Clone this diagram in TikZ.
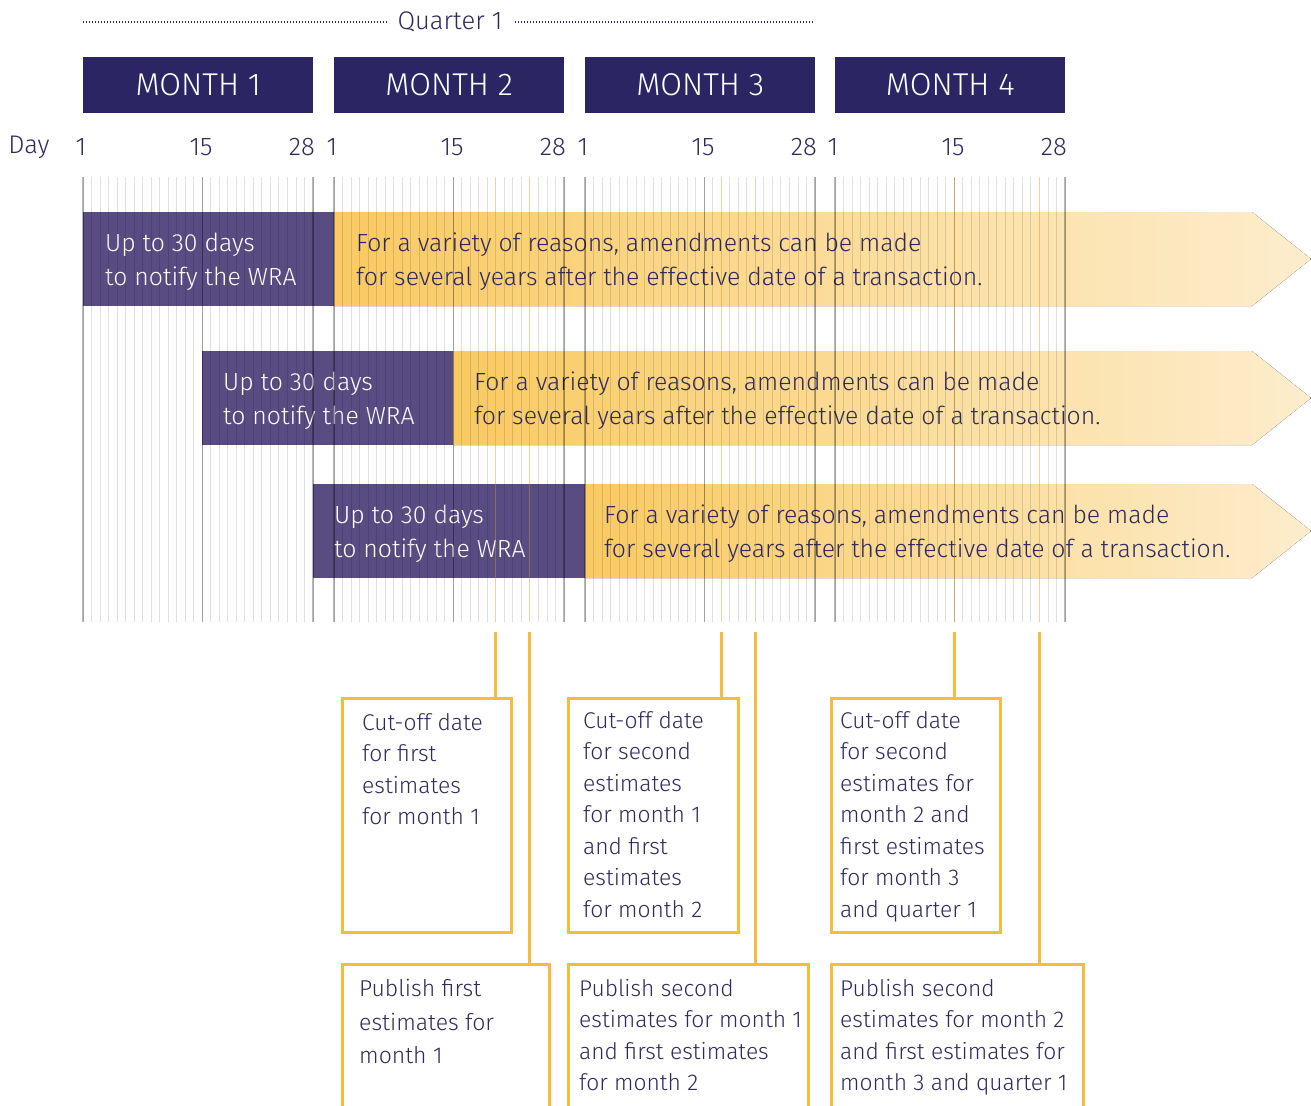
\documentclass[tikz,border=0pt]{standalone}
\usepackage{fontspec}
\setmainfont{Fira Sans Light}
\usetikzlibrary{calc}
\definecolor{navy}{RGB}{43,37,100}
\definecolor{plum}{RGB}{88,76,130}
\definecolor{ink}{RGB}{46,42,92}
\definecolor{gold}{RGB}{246,188,58}
\definecolor{ambL}{RGB}{249,202,98}
\definecolor{ambM}{RGB}{251,220,150}
\definecolor{ambR}{RGB}{253,237,205}
\begin{document}
\begin{tikzpicture}[x=1pt,y=-1pt,
  monthbox/.style={fill=navy,text=white,anchor=north west,minimum width=230pt,
    minimum height=56pt,inner sep=0pt,font=\fontsize{31.5}{36}\selectfont},
  daylbl/.style={text=ink,inner sep=0pt,font=\fontsize{25.5}{28}\selectfont},
  dotline/.style={navy,line width=1.4pt,dash pattern=on 1pt off 2pt},
  plumbar/.style={fill=plum,anchor=north west,minimum height=94pt,inner sep=0pt},
  bartext/.style={anchor=west,inner sep=0pt,align=left,
    font=\fontsize{24.8}{34}\selectfont},
  thinday/.style={black,opacity=0.12,line width=0.9pt},
  markday/.style={black,opacity=0.28,line width=1.2pt},
  goldday/.style={gold,opacity=0.35,line width=1pt},
  notebox/.style={draw=gold,line width=3pt,anchor=north west,inner sep=0pt},
  notetext/.style={text=ink,anchor=north west,inner sep=0pt,align=left,
    font=\fontsize{22.8}{31.5}\selectfont},
  conn/.style={gold,line width=3pt}
]
\useasboundingbox (0,0) rectangle (1311,1105);
\clip (0,0) rectangle (1311,1105);

% quarter heading with dotted rules
\node[daylbl] (q) at (450,22) {Quarter 1};
\coordinate (ql) at (83,22);
\coordinate (qr) at (813,22);
\draw[dotline,shorten >=10pt] (ql) -- (q.west);
\draw[dotline,shorten <=12pt] (q.east) -- (qr);

% month headers
\node[monthbox] (m1) at (83,57) {MONTH 1};
\node[monthbox] (m2) at (334,57) {MONTH 2};
\node[monthbox] (m3) at (585,57) {MONTH 3};
\node[monthbox] (m4) at (835,57) {MONTH 4};

% day labels
\node[daylbl] (dl) at (29,147) {Day};
\foreach \s/\n in {83/a,334/b,585/c,835/d}{
  \node[daylbl] (one\n) at (\s-2,147) {1};
  \node[daylbl] (fif\n) at (\s+118,147) {15};
  \node[daylbl,anchor=east] (twe\n) at (\s+232,147) {28};
}

% reporting windows: notification period then open-ended amendment period
\node[plumbar,minimum width=251pt] (p1) at (83,212) {};
\fill[left color=ambL,middle color=ambM,right color=ambR]
  (334,212) -- (1252,212) -- (1311,259) -- (1252,306) -- (334,306) -- cycle;
\node[bartext,text=white] (u1) at ([xshift=22pt,yshift=-3pt]p1.west)
  {Up to 30 days\\to notify the WRA};
\node[bartext,text=ink] (a1) at (356,262)
  {For a variety of reasons, amendments can be made\\for several years after the effective date of a transaction.};

\node[plumbar,minimum width=251pt] (p2) at (202,351) {};
\fill[left color=ambL,middle color=ambM,right color=ambR]
  (453,351) -- (1252,351) -- (1311,398) -- (1252,445) -- (453,445) -- cycle;
\node[bartext,text=white] (u2) at ([xshift=21pt,yshift=-3pt]p2.west)
  {Up to 30 days\\to notify the WRA};
\node[bartext,text=ink] (a2) at (474,401)
  {For a variety of reasons, amendments can be made\\for several years after the effective date of a transaction.};

\node[plumbar,minimum width=272pt] (p3) at (313,484) {};
\fill[left color=ambL,middle color=ambM,right color=ambR]
  (585,484) -- (1252,484) -- (1311,531) -- (1252,578) -- (585,578) -- cycle;
\node[bartext,text=white] (u3) at ([xshift=21pt,yshift=-3pt]p3.west)
  {Up to 30 days\\to notify the WRA};
\node[bartext,text=ink] (a3) at (604,534)
  {For a variety of reasons, amendments can be made\\for several years after the effective date of a transaction.};

% day grid
\foreach \s in {83,334,585,835}{
  \foreach \d in {1,...,28}{
    \pgfmathsetmacro\xx{\s+(\d-1)*230/27}
    \draw[thinday] (\xx,177) -- (\xx,622);
  }
  \foreach \d in {1,15,28}{
    \pgfmathsetmacro\xx{\s+(\d-1)*230/27}
    \draw[markday] (\xx,177) -- (\xx,622);
  }
}

% key dates
\coordinate (k1) at (495.9,632);
\coordinate (k2) at (529.9,632);
\coordinate (k3) at (721.3,632);
\coordinate (k4) at (755.4,632);
\coordinate (k5) at (954.3,632);
\coordinate (k6) at (1039.4,632);
\foreach \k in {k1,k2,k3,k4,k5,k6}{
  \draw[goldday] (\k |- 0,177) -- (\k |- 0,622);
}

% cut-off boxes
\node[notebox,minimum width=169pt,minimum height=234pt] (cA) at (341,697) {};
\node[notebox,minimum width=170pt,minimum height=234pt] (cB) at (567,697) {};
\node[notebox,minimum width=169pt,minimum height=234pt] (cC) at (830,697) {};
% publication boxes
\node[notebox,minimum width=207pt,minimum height=160pt] (pD) at (341,963) {};
\node[notebox,minimum width=240pt,minimum height=160pt] (pE) at (567,963) {};
\node[notebox,minimum width=252pt,minimum height=160pt] (pF) at (830,963) {};

\draw[conn] (k1) -- (k1 |- cA.north);
\draw[conn] (k2) -- (k2 |- pD.north);
\draw[conn] (k3) -- (k3 |- cB.north);
\draw[conn] (k4) -- (k4 |- pE.north);
\draw[conn] (k5) -- (k5 |- cC.north);
\draw[conn] (k6) -- (k6 |- pF.north);

\node[notetext] (tA) at ([xshift=21pt,yshift=-16pt]cA.north west)
  {Cut-off date\\for first\\estimates\\for month 1};
\node[notetext] (tB) at ([xshift=16pt,yshift=-14pt]cB.north west)
  {Cut-off date\\for second\\estimates\\for month 1\\and first\\estimates\\for month 2};
\node[notetext] (tC) at ([xshift=10pt,yshift=-14pt]cC.north west)
  {Cut-off date\\for second\\estimates for\\month 2 and\\first estimates\\for month 3\\and quarter 1};
\node[notetext,font=\fontsize{23}{33.5}\selectfont] (tD) at ([xshift=18pt,yshift=-16pt]pD.north west)
  {Publish first\\estimates for\\month 1};
\node[notetext] (tE) at ([xshift=12pt,yshift=-16pt]pE.north west)
  {Publish second\\estimates for month 1\\and first estimates\\for month 2};
\node[notetext] (tF) at ([xshift=10pt,yshift=-16pt]pF.north west)
  {Publish second\\estimates for month 2\\and first estimates for\\month 3 and quarter 1};
\end{tikzpicture}
\end{document}
